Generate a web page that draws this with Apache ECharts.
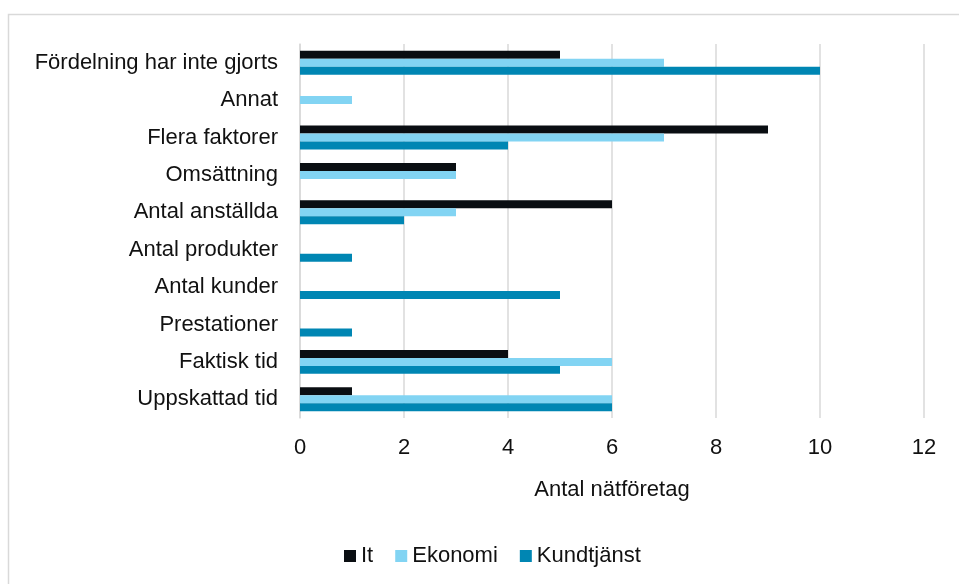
<!DOCTYPE html>
<html><head><meta charset="utf-8">
<script src="https://cdn.jsdelivr.net/npm/echarts@6/dist/echarts.min.js"></script>
<style>html,body{margin:0;padding:0;background:#fff}#c{width:959px;height:584px}</style>
</head><body><div id="c"></div>
<script>
const categories = ['Fördelning har inte gjorts','Annat','Flera faktorer','Omsättning','Antal anställda','Antal produkter','Antal kunder','Prestationer','Faktisk tid','Uppskattad tid'];
const itValues = [5,0,9,3,6,0,0,0,4,1];
const ekonomiValues = [7,1,7,3,3,0,0,0,6,6];
const kundtjanstValues = [10,0,4,0,2,1,5,1,5,6];
const xTicks = [0,2,4,6,8,10,12];
const seriesNames = ['It','Ekonomi','Kundtjänst'];
const colors = ['#0a0e12','#82d4f3','#0086b3'];
const font = 'Liberation Sans';
const chart = echarts.init(document.getElementById('c'));
const vals = [itValues, ekonomiValues, kundtjanstValues];
chart.setOption({
  animation:false,
  textStyle:{fontFamily:font},
  graphic:[{type:'rect',shape:{x:8.5,y:14.5,width:1000,height:1000},style:{fill:'none',stroke:'#d9d9d9',lineWidth:1.5},silent:true}],
  grid:{left:300,right:35,top:44,bottom:166,containLabel:false},
  legend:{data:seriesNames,left:339,top:540,itemWidth:12,itemHeight:12,itemGap:22,icon:'rect',
    textStyle:{fontFamily:font,fontSize:22,color:'#111'}},
  xAxis:{type:'value',min:xTicks[0],max:xTicks[xTicks.length-1],interval:2,
    name:'Antal nätföretag',nameLocation:'middle',nameGap:61,
    nameTextStyle:{fontFamily:font,fontSize:22,color:'#111'},
    axisLine:{show:false},axisTick:{show:false},
    axisLabel:{fontFamily:font,fontSize:22,color:'#111',margin:19},
    splitLine:{lineStyle:{color:'#d9d9d9',width:1.5}}},
  yAxis:{type:'category',data:categories,inverse:true,
    axisLine:{show:true,lineStyle:{color:'#d9d9d9',width:1.5}},axisTick:{show:false},
    axisLabel:{fontFamily:font,fontSize:22,color:'#111',margin:22}},
  series:seriesNames.map((n,i)=>({name:n,type:'bar',data:vals[i],
    itemStyle:{color:colors[i]},barGap:'0%',barCategoryGap:'36%'}))
});
</script></body></html>
